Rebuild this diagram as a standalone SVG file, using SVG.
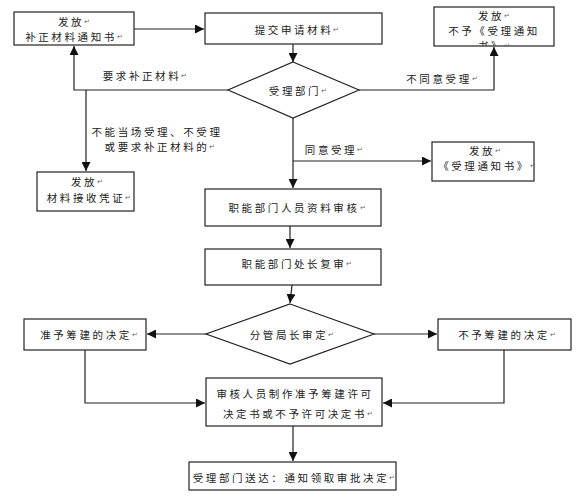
<svg xmlns="http://www.w3.org/2000/svg" width="585" height="500" viewBox="0 0 585 500">
<defs>
<marker id="ah" markerUnits="userSpaceOnUse" markerWidth="10" markerHeight="9" refX="9" refY="4.5" orient="auto">
<path d="M0,0 L9,4.5 L0,9 z" fill="#111"/>
</marker>
<clipPath id="clipNo"><rect x="434" y="7" width="120" height="39"/></clipPath>
</defs>
<style>
.box{fill:#fff;stroke:#222;stroke-width:1.2}
.t{font-family:"Noto Sans CJK SC","Liberation Sans",sans-serif;font-size:10.5px;letter-spacing:2.6px;fill:#222;text-anchor:middle;dominant-baseline:central}
.r{font-size:7px;letter-spacing:0;fill:#666}
.c{fill:none;stroke:#222;stroke-width:1.2}
.a{marker-end:url(#ah)}
</style>
<rect width="585" height="500" fill="#fff"/>
<g id="connectors">
<path class="c a" d="M134,29 H204"/>
<path class="c a" d="M293,44 V62"/>
<path class="c a" d="M228,90 H74 V46"/>
<path class="c a" d="M86,90 V171"/>
<path class="c a" d="M359,90 H494 V47"/>
<path class="c a" d="M293,118 V188"/>
<path class="c a" d="M293,161 H431"/>
<path class="c a" d="M290,226 V248"/>
<path class="c a" d="M292,285 L290,303"/>
<path class="c a" d="M206,334 H147"/>
<path class="c a" d="M374,334 H437"/>
<path class="c a" d="M85,350 V403 H205"/>
<path class="c a" d="M504,350 V403 H383"/>
<path class="c a" d="M293,426 V461"/>
<text class="t" x="145" y="75">要求补正材料<tspan class="r">↵</tspan></text>
<text class="t" x="442" y="78">不同意受理<tspan class="r">↵</tspan></text>
<text class="t" x="157" y="131">不能当场受理、不受理</text>
<text class="t" x="160" y="146">或要求补正材料的<tspan class="r">↵</tspan></text>
<text class="t" x="334" y="149">同意受理<tspan class="r">↵</tspan></text>
</g>
<g id="n1">
<rect class="box" x="14" y="12" width="120" height="33"/>
<text class="t" x="74" y="21">发放<tspan class="r">↵</tspan></text>
<text class="t" x="74" y="36">补正材料通知书<tspan class="r">↵</tspan></text>
</g>
<g id="n2">
<rect class="box" x="205" y="13" width="177" height="31"/>
<text class="t" x="297" y="29">提交申请材料<tspan class="r">↵</tspan></text>
</g>
<g id="n3">
<rect class="box" x="434" y="7" width="120" height="39"/>
<g clip-path="url(#clipNo)">
<text class="t" x="494" y="15">发放<tspan class="r">↵</tspan></text>
<text class="t" x="494" y="30">不予《受理通知</text>
<text class="t" x="494" y="45">书》<tspan class="r">↵</tspan></text>
</g>
</g>
<g id="d1">
<polygon class="box" points="293,62 359,90 293,118 228,90"/>
<text class="t" x="298" y="90">受理部门<tspan class="r">↵</tspan></text>
</g>
<g id="n4">
<rect class="box" x="37" y="172" width="97" height="39"/>
<text class="t" x="87" y="181">发放<tspan class="r">↵</tspan></text>
<text class="t" x="89" y="197">材料接收凭证<tspan class="r">↵</tspan></text>
</g>
<g id="n5">
<rect class="box" x="432" y="142" width="102" height="39"/>
<text class="t" x="485" y="150">发放<tspan class="r">↵</tspan></text>
<text class="t" x="487" y="165">《受理通知书》<tspan class="r">↵</tspan></text>
</g>
<g id="n6">
<rect class="box" x="205" y="189" width="176" height="37"/>
<text class="t" x="297" y="207">职能部门人员资料审核<tspan class="r">↵</tspan></text>
</g>
<g id="n7">
<rect class="box" x="205" y="249" width="176" height="36"/>
<text class="t" x="297" y="263">职能部门处长复审<tspan class="r">↵</tspan></text>
</g>
<g id="d2">
<polygon class="box" points="290,304 374,334 290,364 206,334"/>
<text class="t" x="292" y="334">分管局长审定<tspan class="r">↵</tspan></text>
</g>
<g id="n8">
<rect class="box" x="24" y="319" width="122" height="31"/>
<text class="t" x="89" y="334">准予筹建的决定<tspan class="r">↵</tspan></text>
</g>
<g id="n9">
<rect class="box" x="438" y="319" width="133" height="31"/>
<text class="t" x="507" y="334">不予筹建的决定<tspan class="r">↵</tspan></text>
</g>
<g id="n10">
<rect class="box" x="206" y="378" width="176" height="48"/>
<text class="t" x="295" y="393">审核人员制作准予筹建许可</text>
<text class="t" x="298" y="413">决定书或不予许可决定书<tspan class="r">↵</tspan></text>
</g>
<g id="n11">
<rect class="box" x="189" y="462" width="207" height="28"/>
<text class="t" x="294" y="477">受理部门送达：通知领取审批决定<tspan class="r">↵</tspan></text>
</g>
</svg>
